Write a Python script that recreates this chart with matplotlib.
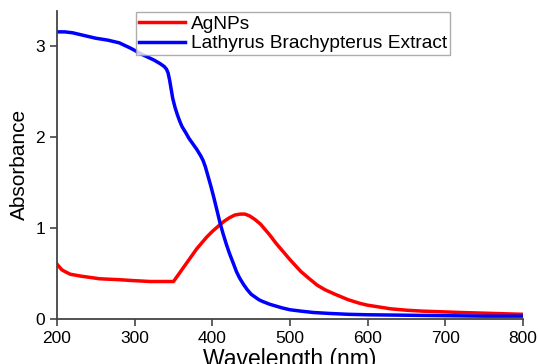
import matplotlib
matplotlib.use("Agg")
import matplotlib.pyplot as plt

plt.rcParams["font.family"] = ["Liberation Sans", "DejaVu Sans"]

# ============================================================
# DATA
# ============================================================

agnp_wl = [200, 203, 206, 210, 217, 230, 255, 280, 298, 320, 340, 350,
           360, 370, 380, 393, 400, 408, 415, 422, 429, 436, 442, 448,
           455, 462, 468, 474, 482, 490, 500, 514, 525, 535, 545, 558,
           575, 590, 600, 615, 630, 650, 670, 687, 720, 760, 800]
agnp_abs = [0.60, 0.57, 0.54, 0.52, 0.49, 0.47, 0.44, 0.43, 0.42, 0.41, 0.41, 0.41,
            0.53, 0.65, 0.77, 0.90, 0.96, 1.02, 1.07, 1.11, 1.14, 1.15, 1.15, 1.13,
            1.09, 1.04, 0.98, 0.92, 0.83, 0.75, 0.65, 0.52, 0.44, 0.37, 0.32, 0.27,
            0.21, 0.17, 0.15, 0.13, 0.11, 0.095, 0.085, 0.08, 0.07, 0.06, 0.05]

extract_wl = [200, 210, 220, 235, 250, 265, 280, 295, 310, 325, 333, 338,
              341, 343, 345, 347, 349, 352, 355, 358, 361, 366, 370, 375,
              380, 385, 388, 391, 394, 398, 402, 406, 410, 414, 418, 422,
              427, 431, 435, 440, 445, 450, 455, 460, 465, 474, 482, 490,
              500, 514, 530, 550, 575, 600, 650, 700, 750, 800]
extract_abs = [3.15, 3.15, 3.14, 3.11, 3.08, 3.06, 3.03, 2.97, 2.90, 2.84, 2.80, 2.77,
               2.74, 2.70, 2.62, 2.52, 2.42, 2.32, 2.24, 2.17, 2.11, 2.04, 1.98, 1.92,
               1.86, 1.79, 1.74, 1.67, 1.58, 1.46, 1.33, 1.19, 1.05, 0.93, 0.82, 0.72,
               0.61, 0.52, 0.45, 0.38, 0.32, 0.27, 0.24, 0.21, 0.19, 0.16, 0.14, 0.12,
               0.10, 0.085, 0.07, 0.06, 0.05, 0.045, 0.04, 0.035, 0.03, 0.03]

x_ticks = [200, 300, 400, 500, 600, 700, 800]
y_ticks = [0, 1, 2, 3]

# ============================================================
# PLOT
# ============================================================

fig = plt.figure(figsize=(5.38, 3.64), dpi=100)
ax = fig.add_axes([0.106, 0.124, 0.866, 0.846])

ax.plot(agnp_wl, agnp_abs, color="#ff0000", lw=2.5, label="AgNPs")
ax.plot(extract_wl, extract_abs, color="#0000ff", lw=2.5,
        label="Lathyrus Brachypterus Extract")

ax.set_xlim(200, 800)
ax.set_ylim(0, 3.38)
ax.set_xticks(x_ticks)
ax.set_yticks(y_ticks)

for side in ["top", "right"]:
    ax.spines[side].set_visible(False)
for side in ["left", "bottom"]:
    ax.spines[side].set_color("#444444")
    ax.spines[side].set_linewidth(1.3)

ax.tick_params(direction="out", length=5, width=1.2, color="#444444",
               labelsize=12.5)

ax.set_xlabel("Wavelength (nm)", fontsize=16.5, labelpad=2)
ax.set_ylabel("Absorbance", fontsize=15, labelpad=5)

leg = ax.legend(loc="upper left", bbox_to_anchor=(0.17, 0.995),
                fontsize=13.8, handlelength=2.4, handletextpad=0.3,
                borderpad=0.15, labelspacing=0.12, borderaxespad=0,
                fancybox=False, frameon=True)
leg.get_frame().set_edgecolor("#999999")
leg.get_frame().set_linewidth(1.0)

plt.savefig("out.png", dpi=100)
